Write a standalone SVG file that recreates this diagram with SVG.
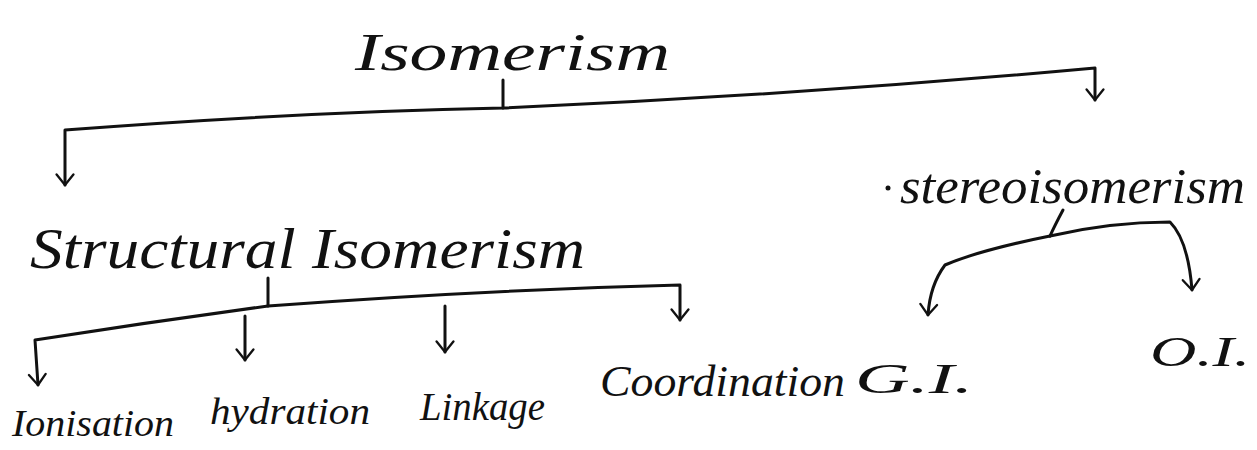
<svg xmlns="http://www.w3.org/2000/svg" width="1257" height="450" viewBox="0 0 1257 450">
<defs>
<style>
.t{font-family:"Liberation Serif",serif;font-style:italic;fill:#111;}
.c{fill:none;stroke:#111;stroke-width:3;stroke-linecap:round;stroke-linejoin:round;}
</style>
<marker id="v" viewBox="0 0 20 20" refX="18" refY="10" markerWidth="7" markerHeight="7" orient="auto-start-reverse" markerUnits="strokeWidth">
<path d="M8 2 L18 10 L8 18" fill="none" stroke="#111" stroke-width="2.2" stroke-linecap="round" stroke-linejoin="round"/>
</marker>
</defs>
<rect width="1257" height="450" fill="#ffffff"/>
<g id="connectors">
<path class="c" d="M503 80 L503 108"/>
<path class="c" d="M65 185 L65 130 Q300 112 503 108 Q800 95 1095 68 L1095 100" marker-start="url(#v)" marker-end="url(#v)"/>
<path class="c" d="M268 278 L268 306"/>
<path class="c" d="M38 385 L35 340 Q150 322 268 306 Q480 290 680 285 L680 320" marker-start="url(#v)" marker-end="url(#v)"/>
<path class="c" d="M245 316 L245 360" marker-end="url(#v)"/>
<path class="c" d="M445 306 L445 352" marker-end="url(#v)"/>
<path class="c" d="M1063 210 Q1055 225 1050 236"/>
<path class="c" d="M1050 236 Q980 250 945 265 Q930 285 928 315" marker-end="url(#v)"/>
<path class="c" d="M1050 236 Q1110 222 1170 222 Q1188 240 1192 290" marker-end="url(#v)"/>
</g>
<g id="isomerism"><text class="t" x="355" y="70" font-size="52" textLength="315" lengthAdjust="spacingAndGlyphs">Isomerism</text></g>
<g id="structural"><text class="t" x="30" y="268" font-size="56" textLength="555" lengthAdjust="spacingAndGlyphs">Structural Isomerism</text></g>
<g id="stereo"><circle cx="888" cy="188" r="2.5" fill="#111"/><text class="t" x="900" y="203" font-size="50" textLength="345" lengthAdjust="spacingAndGlyphs">stereoisomerism</text></g>
<g id="ionisation"><text class="t" x="12" y="436" font-size="38" textLength="162" lengthAdjust="spacingAndGlyphs">Ionisation</text></g>
<g id="hydration"><text class="t" x="210" y="424" font-size="38" textLength="160" lengthAdjust="spacingAndGlyphs">hydration</text></g>
<g id="linkage"><text class="t" x="420" y="420" font-size="40" textLength="125" lengthAdjust="spacingAndGlyphs">Linkage</text></g>
<g id="coordination"><text class="t" x="600" y="396" font-size="44" textLength="245" lengthAdjust="spacingAndGlyphs">Coordination</text></g>
<g id="gi"><text class="t" x="855" y="393" font-size="42" textLength="118" lengthAdjust="spacingAndGlyphs">G.I.</text></g>
<g id="oi"><text class="t" x="1150" y="366" font-size="42" textLength="100" lengthAdjust="spacingAndGlyphs">O.I.</text></g>
</svg>
